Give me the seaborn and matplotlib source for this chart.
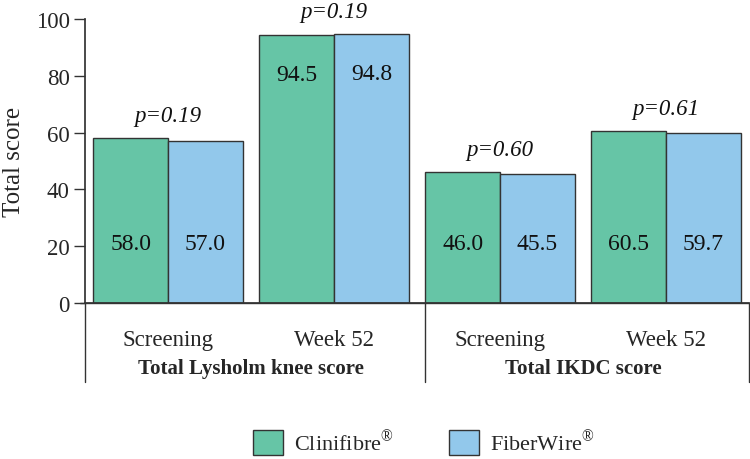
import matplotlib
matplotlib.use("Agg")
import matplotlib.pyplot as plt
import matplotlib.transforms as mtransforms
from matplotlib.patches import Patch
import seaborn as sns
import pandas as pd

# ---- data ----
timepoints = ["Screening", "Week 52", "Screening", "Week 52"]
groups = ["Total Lysholm knee score", "Total IKDC score"]
clinifibre = [58.0, 94.5, 46.0, 60.5]
fiberwire = [57.0, 94.8, 45.5, 59.7]
p_values = ["p=0.19", "p=0.19", "p=0.60", "p=0.61"]
series_names = ["Clinifibre", "FiberWire"]
colors = ["#66C5A6", "#92C8EB"]

sns.set_theme(style="white")
plt.rcParams["font.family"] = ["Liberation Serif", "DejaVu Serif"]
plt.rcParams["mathtext.fontset"] = "custom"
plt.rcParams["mathtext.rm"] = "Liberation Serif"

keys = [f"{i}" for i in range(len(timepoints))]
df = pd.DataFrame({
    "key": keys * 2,
    "value": clinifibre + fiberwire,
    "series": [series_names[0]] * len(keys) + [series_names[1]] * len(keys),
})

fig = plt.figure(figsize=(7.5, 4.6), dpi=100)
ax = fig.add_axes([85 / 750, 1 - 304 / 460, (749 - 85) / 750, 284 / 460])

sns.barplot(data=df, x="key", y="value", hue="series", order=keys,
            hue_order=series_names, palette=colors, width=0.9, saturation=1,
            edgecolor="#333333", linewidth=1.0, ax=ax, legend=False)

ax.set_xlim(-0.5, len(keys) - 0.5)
ax.set_ylim(0, 100)
ax.set_yticks([0, 20, 40, 60, 80, 100])
ax.tick_params(axis="y", labelsize=16.5, length=8, width=1, color="#333333",
               direction="out", left=True, pad=3)
ax.set_xticks([])
ax.set_xlabel("")
ax.set_ylabel("Total score", fontsize=18, labelpad=8)
for s in ["top", "right"]:
    ax.spines[s].set_visible(False)
ax.spines["left"].set_color("#333333")
ax.spines["bottom"].set_color("#333333")

# value labels
for i in range(len(keys)):
    for j, vals in enumerate([clinifibre, fiberwire]):
        v = vals[i]
        x = i + (j - 0.5) * 0.45
        y = v - 14 if v > 80 else 21
        ax.text(x, y, f"{v:.1f}", ha="center", va="center", fontsize=17, color="#111111")
    top = max(clinifibre[i], fiberwire[i])
    ax.text(i, top + 8, p_values[i], ha="center", va="center", fontsize=16.5,
            style="italic", color="#111111")

# category and group labels below axis
trans = mtransforms.blended_transform_factory(ax.transData, ax.transAxes)
for i, t in enumerate(timepoints):
    ax.text(i, -0.13, t, ha="center", va="center", fontsize=16.5, transform=trans)
for g, name in enumerate(groups):
    ax.text(2 * g + 0.5, -0.228, name, ha="center", va="center", fontsize=15,
            fontweight="bold", transform=trans)
for xb in [-0.5, 1.55, 3.5]:
    ax.plot([xb, xb], [0, -0.278], transform=trans, color="#333333", lw=1,
            clip_on=False)
ax.plot([-0.53, 3.5], [0, 0], transform=trans, color="#333333", lw=1, clip_on=False)

handles = [Patch(facecolor=c, edgecolor="#333333", linewidth=1) for c in colors]
labels = [n + r"$^{\circledR}$" for n in series_names]
fig.legend(handles, labels, loc="center", bbox_to_anchor=(424 / 750, 1 - 443 / 460),
           ncol=2, frameon=False, fontsize=16, handlelength=1.35, handleheight=1.35,
           handletextpad=0.5, columnspacing=2.5)

fig.savefig("out.png", dpi=100)
